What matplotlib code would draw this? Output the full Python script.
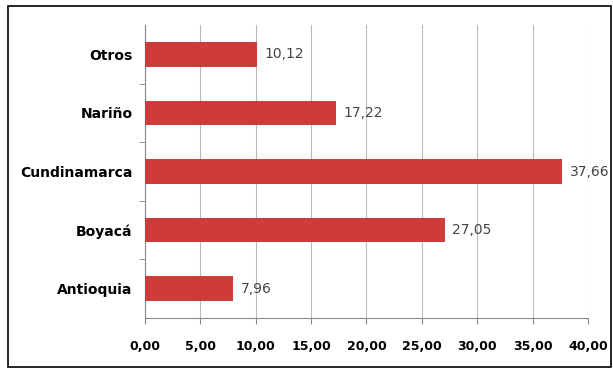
import matplotlib.pyplot as plt
from matplotlib.patches import Rectangle

categories = ["Antioquia", "Boyacá", "Cundinamarca", "Nariño", "Otros"]
values = [7.96, 27.05, 37.66, 17.22, 10.12]
value_labels = ["7,96", "27,05", "37,66", "17,22", "10,12"]
xticks = [0, 5, 10, 15, 20, 25, 30, 35, 40]

W, H = 613, 371
fig = plt.figure(figsize=(W / 100, H / 100), dpi=100)
ax = fig.add_axes([145 / W, 1 - 318 / H, (588 - 145) / W, (318 - 25) / H])

ypos = range(len(categories))
ax.barh(ypos, values, height=0.42, color="#CD3B3B", zorder=3)
ax.set_xlim(0, 40)
ax.set_ylim(-0.5, len(categories) - 0.5)

for y, v, lab in zip(ypos, values, value_labels):
    ax.text(v + 0.7, y, lab, va="center", ha="left", fontsize=10, color="#444444")

ax.set_yticks(list(ypos))
ax.set_yticklabels(categories, fontweight="bold", fontsize=10)
ax.set_yticks([i + 0.5 for i in range(len(categories) - 1)], minor=True)
ax.set_xticks(xticks)
ax.set_xticklabels([f"{t:.2f}".replace(".", ",") for t in xticks],
                   fontweight="bold", fontsize=9)
ax.tick_params(axis="y", which="major", length=0, pad=9)
ax.tick_params(axis="y", which="minor", length=4, color="#888888")
ax.tick_params(axis="x", length=4, color="#888888", pad=12)
ax.grid(axis="x", color="#BBBBBB", linewidth=0.8, zorder=0)
for s in ["top", "right"]:
    ax.spines[s].set_visible(False)
ax.spines["left"].set_color("#888888")
ax.spines["bottom"].set_color("#888888")

fig.patches.append(Rectangle((8 / W, 4 / H), (W - 10) / W, (H - 10) / H,
                             transform=fig.transFigure, fill=False,
                             edgecolor="black", linewidth=1.2))

fig.savefig("out.png", dpi=100)
